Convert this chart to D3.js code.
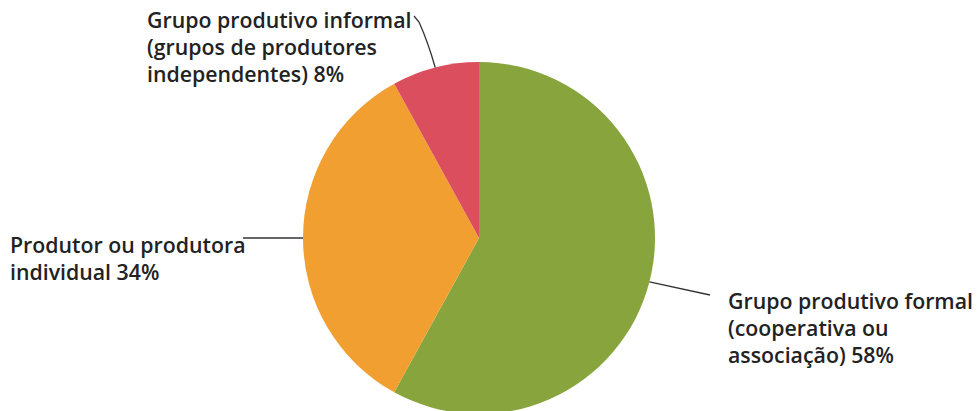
<!DOCTYPE html>
<html>
<head>
<meta charset="utf-8">
<script src="https://cdn.jsdelivr.net/npm/d3@7"></script>
<style>
  html, body { margin: 0; padding: 0; background: #fff; }
  svg { display: block; }
  .label { font-family: "Open Sans", Roboto, sans-serif; font-weight: 600; font-size: 21.3px; fill: #222; }
  .leader { fill: none; stroke: #333; stroke-width: 1.3; }
</style>
</head>
<body>
<svg id="chart" width="978" height="411"></svg>
<script>
// Participation type shares (percent)
const categories = [
  "Grupo produtivo formal (cooperativa ou associação)",
  "Produtor ou produtora individual",
  "Grupo produtivo informal (grupos de produtores independentes)"
];
const values = [58, 34, 8];
const colors = ["#87a43d", "#f19f31", "#db4e5e"];
// Label text broken into lines, with the value appended to the last line
const labelLines = [
  ["Grupo produtivo formal", "(cooperativa ou", "associação) 58%"],
  ["Produtor ou produtora", "individual 34%"],
  ["Grupo produtivo informal", "(grupos de produtores", "independentes) 8%"]
];

const width = 978, height = 411;
const cx = 479, cy = 238, radius = 176;

const svg = d3.select("#chart");
const g = svg.append("g").attr("transform", `translate(${cx},${cy})`);

const pie = d3.pie().sort(null).value(d => d.value);
const arc = d3.arc().innerRadius(0).outerRadius(radius);
const data = pie(values.map((v, i) => ({ name: categories[i], value: v, color: colors[i], lines: labelLines[i] })));

g.selectAll("path.slice")
  .data(data)
  .join("path")
  .attr("class", "slice")
  .attr("d", arc)
  .attr("fill", d => d.data.color);

// Label layout: text block anchor and the point where each leader line ends
const labelLayout = [
  { x: 728, y: 309, end: [710, 295], via: null },
  { x: 10, y: 253, end: [243, 238], via: null },
  { x: 147, y: 28, end: [419, 22], via: [428, 42], hook: [414, 16] }
];
const lineHeight = 27;

function edgePoint(d) {
  const a = (d.startAngle + d.endAngle) / 2;
  return [cx + radius * Math.sin(a), cy - radius * Math.cos(a)];
}

data.forEach((d, i) => {
  const L = labelLayout[i];
  const p = edgePoint(d);
  let path = d3.path();
  path.moveTo(p[0], p[1]);
  if (L.via) {
    path.quadraticCurveTo(L.via[0], L.via[1], L.end[0], L.end[1]);
  } else {
    path.lineTo(L.end[0], L.end[1]);
  }
  if (L.hook) path.lineTo(L.hook[0], L.hook[1]);
  svg.append("path").attr("class", "leader").attr("d", path.toString());

  const t = svg.append("text").attr("class", "label").attr("x", L.x).attr("y", L.y);
  d.data.lines.forEach((line, j) => {
    t.append("tspan").attr("x", L.x).attr("y", L.y + j * lineHeight).text(line);
  });
});
</script>
</body>
</html>
